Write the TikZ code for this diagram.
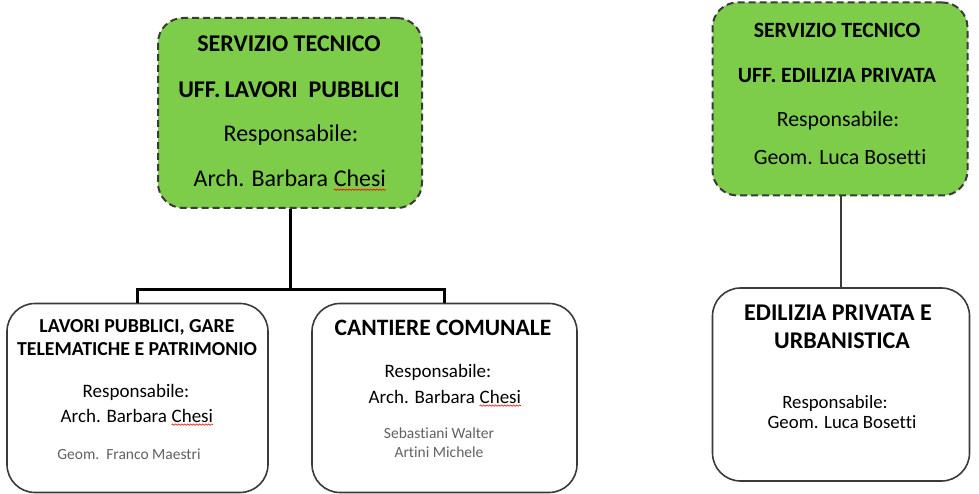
\documentclass[tikz,border=0pt]{standalone}
\usepackage{fontspec}
\setmainfont[Ligatures={NoCommon}]{Carlito}
\usetikzlibrary{decorations.pathmorphing}
\definecolor{boxgreen}{HTML}{7DCD4B}
\definecolor{edge}{HTML}{3A3A3A}
\newcommand\wavyword[1]{\tikz[baseline=(w.base)]{\node[inner sep=0pt,outer sep=0pt](w){#1};\draw[red,line width=0.6pt,decorate,decoration={snake,amplitude=0.7pt,segment length=3pt}]([yshift=-2.5pt]w.south west)--([yshift=-2.5pt]w.south east);}}
\tikzset{
  greenbox/.style={draw=edge,fill=boxgreen,line width=2pt,dash pattern=on 7pt off 4pt,rounded corners=25pt,minimum width=#1},
  whitebox/.style={draw=edge,fill=white,line width=1.6pt,rounded corners=28pt,minimum width=#1},
  txt/.style={inner sep=0pt,anchor=base},
  small/.style={txt,font=\fontsize{15.5}{16}\selectfont,text=edge!80},
  conn/.style={line width=3pt,black},
  thinconn/.style={line width=1.5pt,edge}
}
\begin{document}
\begin{tikzpicture}[x=1pt,y=-1pt]
\useasboundingbox (0,0) rectangle (979,494);
% boxes
\node[greenbox=264pt,minimum height=190pt] (A) at (290,113) {};
\node[greenbox=255pt,minimum height=193pt] (B) at (840,99) {};
\node[whitebox=261pt,minimum height=189pt] (C) at (137.5,398) {};
\node[whitebox=265pt,minimum height=189pt] (D) at (444.5,398) {};
\node[whitebox=257pt,minimum height=193pt] (E) at (841,384.5) {};
% connectors
\coordinate (J) at (290,289);
\coordinate (JL) at (137.5,289);
\coordinate (JR) at (444.5,289);
\draw[conn] (A.south) -- (J);
\draw[conn,line cap=rect] (JL) -- (JR);
\draw[conn] (JL) -- (C.north);
\draw[conn] (JR) -- (D.north);
\draw[thinconn] (B.south -| 841,0) -- (E.north);
% box A text
\node[txt,font=\bfseries\fontsize{24}{25}\selectfont] (a1) at (289,52) {SERVIZIO TECNICO};
\node[txt,font=\bfseries\fontsize{24}{25}\selectfont] (a2) at (289,98) {UFF.\,LAVORI\ \ PUBBLICI};
\node[txt,font=\fontsize{24}{25}\selectfont] (a3) at (291,142) {Responsabile:};
\node[txt,font=\fontsize{24}{25}\selectfont] (a4) at (290,187) {Arch. Barbara \wavyword{Chesi}};
% box B text
\node[txt,font=\bfseries\fontsize{21.8}{22}\selectfont] (b1) at (837,38) {SERVIZIO TECNICO};
\node[txt,font=\bfseries\fontsize{21.8}{22}\selectfont] (b2) at (837,83) {UFF. EDILIZIA PRIVATA};
\node[txt,font=\fontsize{21.8}{22}\selectfont] (b3) at (838,127) {Responsabile:};
\node[txt,font=\fontsize{21.8}{22}\selectfont] (b4) at (840,165) {Geom. Luca Bosetti};
% box C text
\node[txt,font=\bfseries\fontsize{19.8}{20}\selectfont] (c1) at (137,332) {LAVORI PUBBLICI, GARE};
\node[txt,font=\bfseries\fontsize{19.8}{20}\selectfont] (c2) at (137,355) {TELEMATICHE E PATRIMONIO};
\node[txt,font=\fontsize{19}{20}\selectfont] (c3) at (136,397) {Responsabile:};
\node[txt,font=\fontsize{19}{20}\selectfont] (c4) at (137,422) {Arch. Barbara \wavyword{Chesi}};
\node[small] (c5) at (129,459) {Geom.\ \ Franco Maestri};
% box D text
\node[txt,font=\bfseries\fontsize{23.5}{24}\selectfont] (d1) at (443,335) {CANTIERE COMUNALE};
\node[txt,font=\fontsize{19}{20}\selectfont] (d2) at (438,377) {Responsabile:};
\node[txt,font=\fontsize{19}{20}\selectfont] (d3) at (445,403) {Arch. Barbara \wavyword{Chesi}};
\node[small] (d4) at (439,438) {Sebastiani Walter};
\node[small] (d5) at (439,457) {Artini Michele};
% box E text
\node[txt,font=\bfseries\fontsize{24}{25}\selectfont] (e1) at (838,320) {EDILIZIA PRIVATA E};
\node[txt,font=\bfseries\fontsize{24}{25}\selectfont] (e2) at (842,348) {URBANISTICA};
\node[txt,font=\fontsize{18.8}{19}\selectfont] (e3) at (835,408) {Responsabile:};
\node[txt,font=\fontsize{18.8}{19}\selectfont] (e4) at (842,428) {Geom. Luca Bosetti};
\end{tikzpicture}
\end{document}
